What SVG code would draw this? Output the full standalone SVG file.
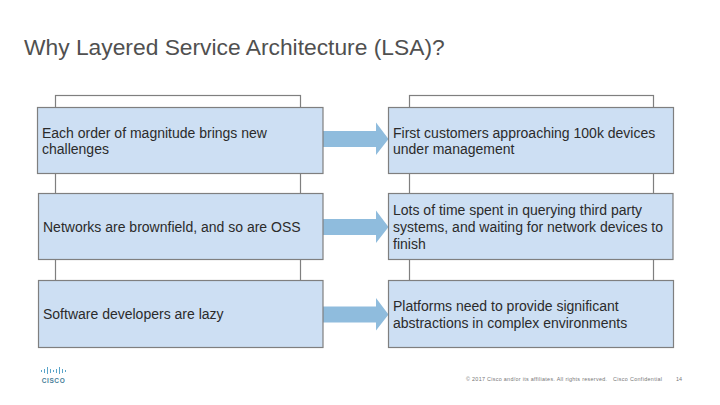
<svg xmlns="http://www.w3.org/2000/svg" width="720" height="405" viewBox="0 0 720 405">
<style>
text{font-family:"Liberation Sans",Arial,sans-serif;fill:#2b2b2b}
.t{font-size:22.800px;fill:#505050}
.b{font-size:14px}
.f{font-size:5.400px;fill:#777}
.box{fill:#cddff3;stroke:#7f7f7f;stroke-width:1.2}
.bk{fill:#fff;stroke:#7f7f7f;stroke-width:1.2}
.arr{fill:#8fbcdd}
.logo{stroke:#5ba5c9;stroke-width:1;fill:none}
</style>
<rect width="720" height="405" fill="#fff"/>
<text class="t" x="24" y="55">Why Layered Service Architecture (LSA)?</text>
<g id="backing">
<rect class="bk" x="55.500" y="95.500" width="245" height="251"/>
<rect class="bk" x="409.500" y="95.500" width="244" height="251"/>
</g>
<g id="connectors">
<path class="arr" d="M322.500 131H376V122.500L388.500 139L376 155V147H322.500Z"/>
<path class="arr" d="M322.500 219H376V210.500L388.500 227L376 243V235H322.500Z"/>
<path class="arr" d="M322.500 306.500H376V298L388.500 314.500L376 330.500V322.500H322.500Z"/>
</g>
<g id="n1"><rect class="box" x="37.500" y="107.500" width="285.500" height="66"/>
<text class="b" x="42" y="138">Each order of magnitude brings new</text><text class="b" x="42" y="154">challenges</text></g>
<g id="n2"><rect class="box" x="38.500" y="193.500" width="284.500" height="66"/>
<text class="b" x="43" y="232">Networks are brownfield, and so are OSS</text></g>
<g id="n3"><rect class="box" x="38.500" y="280.500" width="284.500" height="67"/>
<text class="b" x="43" y="319">Software developers are lazy</text></g>
<g id="n4"><rect class="box" x="388.500" y="107.500" width="285" height="66"/>
<text class="b" x="393" y="138">First customers approaching 100k devices</text><text class="b" x="393" y="154">under management</text></g>
<g id="n5"><rect class="box" x="388.500" y="193.500" width="284.500" height="66"/>
<text class="b" x="393" y="215">Lots of time spent in querying third party</text><text class="b" x="393" y="232">systems, and waiting for network devices to</text><text class="b" x="393" y="249">finish</text></g>
<g id="n6"><rect class="box" x="388.500" y="280.500" width="285" height="67"/>
<text class="b" x="393" y="311">Platforms need to provide significant</text><text class="b" x="393" y="328">abstractions in complex environments</text></g>
<g id="logo">
<path class="logo" d="M41.500 370v2M44.500 369v4M47.500 367v7M50.500 369v4M53.500 370v2M56.500 369v4M59.500 367v7M62.500 369v4M65.500 370v2"/>
<text x="53.500" y="382.500" text-anchor="middle" style="font-size:6.500px;font-weight:bold;letter-spacing:.6px;fill:#4a7f99">CISCO</text>
</g>
<g id="footer">
<text class="f" x="466" y="381" textLength="141" lengthAdjust="spacing">© 2017 Cisco and/or its affiliates. All rights reserved.</text>
<text class="f" x="613" y="381" textLength="49" lengthAdjust="spacing">Cisco Confidential</text>
<text class="f" x="676" y="381">14</text>
</g>
</svg>
